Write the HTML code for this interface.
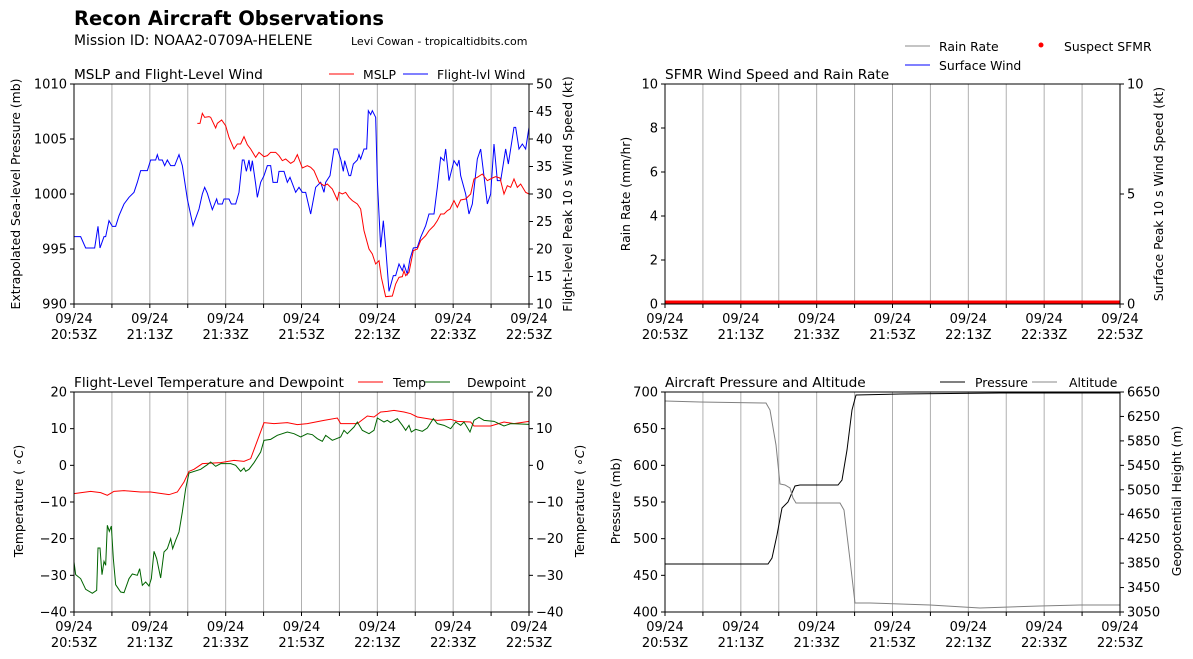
<!DOCTYPE html>
<html><head><meta charset="utf-8"><style>
html,body{margin:0;padding:0;background:#fff}
svg{display:block;font-family:"DejaVu Sans","Liberation Sans",sans-serif}
</style></head><body>
<svg id="s" width="1193" height="659" viewBox="0 0 1193 659" xmlns="http://www.w3.org/2000/svg">
<text x="74" y="25" font-size="19.5" font-weight="bold">Recon Aircraft Observations</text>
<text x="74" y="45" font-size="13.9">Mission ID: NOAA2-0709A-HELENE</text>
<text x="351" y="45" font-size="11">Levi Cowan - tropicaltidbits.com</text>
<g id="grid"></g>
<g transform="translate(74,84) scale(0.33333)" fill="none">
<polyline vector-effect="non-scaling-stroke" stroke="#0000ff" points="0,458 20,458 35,492 62,492 72,427 78,492 90,458 95,458 105,410 115,427 125,427 135,395 150,360 165,340 180,325 190,295 200,260 220,260 230,228 245,228 250,212 255,228 265,228 272,245 280,228 290,245 302,245 315,212 325,245 340,345 357,425 375,375 385,330 392,310 400,328 415,377 428,345 432,360 445,360 450,345 465,345 472,360 485,360 495,325 505,228 510,228 517,262 525,228 530,262 535,230 545,300 550,340 560,295 570,275 580,245 590,245 597,295 610,295 615,262 630,262 640,295 648,280 665,325 675,310 685,325 695,325 710,390 725,310 740,295 750,325 755,295 768,275 780,195 790,195 800,225 808,262 812,230 825,275 830,275 838,240 850,228 855,212 860,225 870,195 878,195 883,80 890,92 895,80 905,100 910,290 920,490 928,410 935,490 945,622 958,575 965,575 975,540 985,560 990,542 1000,570 1008,525 1018,492 1030,490 1040,460 1055,425 1065,390 1080,390 1090,310 1100,220 1110,230 1115,195 1125,290 1140,230 1150,245 1155,228 1160,275 1175,330 1185,390 1195,360 1210,225 1220,195 1228,260 1240,360 1250,330 1260,180 1270,290 1280,290 1295,195 1303,240 1320,130 1325,130 1335,195 1345,180 1355,195 1365,130"/>
<polyline vector-effect="non-scaling-stroke" stroke="#ff0000" points="370,118 378,118 385,88 392,100 405,98 410,100 425,132 430,118 443,108 455,125 465,160 480,195 490,180 500,180 510,158 520,182 530,195 545,220 555,205 570,218 580,215 590,205 605,205 615,215 625,230 635,225 650,238 660,232 670,212 685,252 700,245 710,250 720,260 735,295 750,305 760,300 775,315 790,348 795,325 805,330 815,325 825,340 835,350 850,360 860,375 870,440 885,495 895,510 905,540 915,530 922,580 935,638 955,636 965,600 975,580 985,578 990,560 995,575 1005,565 1018,500 1030,495 1040,470 1055,455 1065,440 1080,425 1090,410 1100,390 1110,390 1120,380 1128,375 1140,350 1150,370 1160,348 1175,345 1190,330 1200,285 1210,280 1225,270 1240,290 1255,282 1265,278 1278,282 1290,330 1300,305 1310,310 1320,285 1330,310 1340,300 1355,325 1365,330"/>
</g>
<line x1="665" y1="303" x2="1120" y2="303" stroke="#888" stroke-width="1"/>
<line x1="665" y1="302" x2="1120" y2="302" stroke="#ff0000" stroke-width="3"/>
<g transform="translate(74,392) scale(0.33333)" fill="none">
<polyline vector-effect="non-scaling-stroke" stroke="#ff0000" points="0,305 50,298 80,302 100,310 120,298 150,296 200,300 230,300 285,308 310,300 330,270 345,238 360,232 385,215 440,212 480,205 510,208 530,200 570,92 600,95 640,92 670,98 700,95 750,85 790,78 800,95 830,95 850,95 880,72 900,75 920,60 940,58 960,55 990,60 1010,65 1030,75 1060,80 1090,85 1130,82 1150,88 1190,90 1200,102 1250,102 1290,90 1320,95 1365,88"/>
<polyline vector-effect="non-scaling-stroke" stroke="#006400" points="0,510 5,548 20,560 35,592 55,604 68,595 72,468 78,468 84,548 90,508 95,520 100,400 106,418 112,402 118,500 125,578 140,600 150,602 165,560 175,546 190,550 197,530 205,580 215,570 225,582 232,560 240,478 248,500 260,558 270,480 280,470 290,440 296,470 305,445 315,420 325,360 335,290 345,243 380,232 400,218 410,210 425,223 440,215 470,215 485,220 500,238 510,228 515,238 525,232 540,212 560,180 570,145 590,142 610,130 640,120 660,125 680,135 700,125 715,128 730,140 745,148 755,130 775,145 800,135 810,115 820,125 840,105 850,90 865,115 885,125 900,115 910,78 930,90 940,85 950,92 970,80 985,100 995,115 1005,100 1012,120 1025,112 1045,118 1060,108 1078,80 1090,95 1110,100 1130,110 1145,90 1160,100 1170,90 1188,120 1200,85 1215,76 1230,85 1260,88 1275,95 1290,102 1310,95 1340,96 1365,97"/>
</g>
<polyline fill="none" stroke="#000" stroke-width="1" points="665,564 768,564 772,558 777,535 782,508 788,502 791,495 795,486 800,485 838,485 842,480 847,450 852,410 856,395 900,394 1000,393 1120,393"/>
<polyline fill="none" stroke="#808080" stroke-width="1" points="665,401 700,402 766,403 770,410 776,445 780,484 785,485 790,488 793,498 796,503 840,503 844,510 850,560 855,603 870,603 930,605 980,608 1040,606 1080,605 1120,605"/>
<g id="axes"></g>
<g font-size="13.7">
<text x="74" y="79">MSLP and Flight-Level Wind</text>
<text x="665" y="79">SFMR Wind Speed and Rain Rate</text>
<text x="74" y="387">Flight-Level Temperature and Dewpoint</text>
<text x="665" y="387">Aircraft Pressure and Altitude</text>
</g>
<g font-size="12.4">
<line x1="329" y1="74" x2="354" y2="74" stroke="#f00"/><text x="363" y="79">MSLP</text>
<line x1="403" y1="74" x2="428" y2="74" stroke="#00f"/><text x="437" y="79">Flight-lvl Wind</text>
<line x1="905" y1="46" x2="930" y2="46" stroke="#888"/><text x="939" y="51">Rain Rate</text>
<line x1="905" y1="65" x2="930" y2="65" stroke="#00f"/><text x="939" y="70">Surface Wind</text>
<circle cx="1041" cy="45" r="2.5" fill="#f00"/><text x="1064" y="51">Suspect SFMR</text>
<line x1="358" y1="382" x2="383" y2="382" stroke="#f00"/><text x="393" y="387">Temp</text>
<line x1="425" y1="382" x2="450" y2="382" stroke="#006400"/><text x="467" y="387">Dewpoint</text>
<line x1="940" y1="382" x2="965" y2="382" stroke="#000"/><text x="975" y="387">Pressure</text>
<line x1="1032" y1="382" x2="1057" y2="382" stroke="#888"/><text x="1069" y="387">Altitude</text>
</g>
<g font-size="12.4" text-anchor="middle">
<text transform="translate(20,194) rotate(-90)">Extrapolated Sea-level Pressure (mb)</text>
<text transform="translate(572,194) rotate(-90)">Flight-level Peak 10 s Wind Speed (kt)</text>
<text transform="translate(630,194) rotate(-90)">Rain Rate (mm/hr)</text>
<text transform="translate(1163,194) rotate(-90)">Surface Peak 10 s Wind Speed (kt)</text>
<text transform="translate(23,501) rotate(-90)">Temperature ( <tspan>∘</tspan><tspan font-style="italic">C</tspan>)</text>
<text transform="translate(584,501) rotate(-90)">Temperature ( <tspan>∘</tspan><tspan font-style="italic">C</tspan>)</text>
<text transform="translate(620,501) rotate(-90)">Pressure (mb)</text>
<text transform="translate(1181,501) rotate(-90)">Geopotential Height (m)</text>
</g>
</svg>
<script>
var NS="http://www.w3.org/2000/svg",G=document.getElementById('grid'),A=document.getElementById('axes');
function el(p,t,a,txt){var e=document.createElementNS(NS,t);for(var k in a)e.setAttribute(k,a[k]);if(txt!=null)e.textContent=txt;p.appendChild(e);return e;}
var times=["20:53Z","21:13Z","21:33Z","21:53Z","22:13Z","22:33Z","22:53Z"];
function panel(x0,y0,L,R){
 var w=455,h=220,dx=w/12;
 for(var i=1;i<12;i++){var x=x0+i*dx;el(G,'line',{x1:x,y1:y0,x2:x,y2:y0+h,stroke:'#b0b0b0','stroke-width':1});}
 el(A,'rect',{x:x0,y:y0,width:w,height:h,fill:'none',stroke:'#000','stroke-width':1});
 for(var i=0;i<=12;i++){var x=x0+i*dx;el(A,'line',{x1:x,y1:y0+h,x2:x,y2:y0+h+4,stroke:'#000'});
  if(i%2==0){el(A,'text',{x:x,y:y0+h+19,'font-size':13,'text-anchor':'middle'},'09/24');el(A,'text',{x:x,y:y0+h+35,'font-size':13,'text-anchor':'middle'},times[i/2]);}}
 L.forEach(function(v,i){var y=y0+h*i/(L.length-1);el(A,'line',{x1:x0-4,y1:y,x2:x0,y2:y,stroke:'#000'});el(A,'text',{x:x0-7,y:y+4.5,'font-size':13,'text-anchor':'end'},v);});
 R.forEach(function(v,i){var y=y0+h*i/(R.length-1);el(A,'line',{x1:x0+w,y1:y,x2:x0+w+4,y2:y,stroke:'#000'});el(A,'text',{x:x0+w+7,y:y+4.5,'font-size':13},v);});
}
panel(74,84,["1010","1005","1000","995","990"],["50","45","40","35","30","25","20","15","10"]);
panel(665,84,["10","8","6","4","2","0"],["10","5","0"]);
panel(74,392,["20","10","0","−10","−20","−30","−40"],["20","10","0","−10","−20","−30","−40"]);
panel(665,392,["700","650","600","550","500","450","400"],["6650","6250","5850","5450","5050","4650","4250","3850","3450","3050"]);
</script>
</body></html>
